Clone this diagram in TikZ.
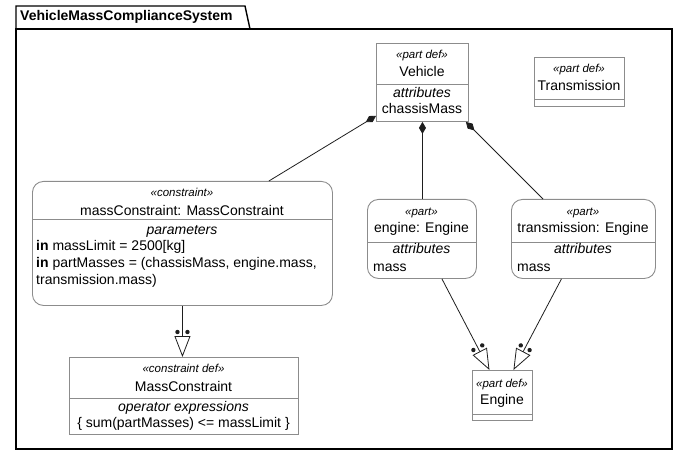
\documentclass[tikz,border=0pt]{standalone}
\usepackage{fontspec}
\setmainfont{Liberation Sans}
\usetikzlibrary{arrows.meta,decorations.markings}
\definecolor{boxgray}{RGB}{140,140,140}
\definecolor{linegray}{RGB}{30,30,30}
\begin{document}
\begin{tikzpicture}[x=1pt,y=-1pt,
  defbox/.style={draw=boxgray,line width=0.9pt,inner sep=0pt,anchor=north west},
  usebox/.style={defbox,rounded corners=11pt},
  sep/.style={draw=boxgray,line width=0.9pt},
  stereo/.style={anchor=base,inner sep=0pt,font=\fontsize{11.5}{13}\selectfont\itshape},
  heading/.style={anchor=base,inner sep=0pt,font=\fontsize{14}{16}\selectfont},
  member/.style={heading,anchor=base west},
  owns/.style={linegray,line width=0.8pt,{Diamond[length=12pt,width=7pt]}-},
  typed/.style={linegray,line width=0.8pt,-{Triangle[open,length=21pt,width=16pt,fill=white]},
    postaction={decorate},decoration={markings,
      mark=at position -25pt with {\fill (0,5) circle (2.2); \fill (0,-5) circle (2.2);}}}]
\useasboundingbox (0,0) rectangle (688,457);

\draw[line width=1.4pt] (16,29) rectangle (672,449);
\draw[line width=1.4pt] (16,29) -- (16,6) -- (245,6) -- (250,29);
\node[anchor=base west,inner sep=0pt,font=\fontsize{14}{16}\selectfont\bfseries] (pkg) at (20,21) {VehicleMassComplianceSystem};

\node[defbox,minimum width=92,minimum height=78] (vehicle) at (376,43) {};
\draw[sep] (376,84) -- (468,84);
\node[stereo] (vehicleS) at (422,59) {«part def»};
\node[heading] (vehicleN) at (422,77) {Vehicle};
\node[heading,font=\fontsize{14}{16}\selectfont\itshape] (vehicleA) at (422,98) {attributes};
\node[heading] (vehicleM) at (422,114) {chassisMass};

\node[defbox,minimum width=90,minimum height=49] (transmission) at (534,57) {};
\draw[sep] (534,99) -- (624,99);
\node[stereo] (transmissionS) at (579,73) {«part def»};
\node[heading] (transmissionN) at (579,91) {Transmission};

\node[usebox,minimum width=300,minimum height=124] (mcon) at (32,181) {};
\draw[sep] (32,219) -- (332,219);
\node[stereo] (mconS) at (182,197) {«constraint»};
\node[heading] (mconN) at (182,216) {massConstraint: MassConstraint};
\node[heading,font=\fontsize{14}{16}\selectfont\itshape] (mconP) at (182,235) {parameters};
\node[member] (mconA) at (36,251) {\textbf{in} massLimit = 2500[kg]};
\node[member] (mconB) at (36,267.5) {\textbf{in} partMasses = (chassisMass, engine.mass,};
\node[member] (mconC) at (36,284) {transmission.mass)};

\node[usebox,minimum width=109,minimum height=79] (engine) at (367,199) {};
\draw[sep] (367,242) -- (476,242);
\node[stereo] (engineS) at (421.5,216) {«part»};
\node[heading] (engineN) at (421.5,233) {engine: Engine};
\node[heading,font=\fontsize{14}{16}\selectfont\itshape] (engineA) at (421.5,254) {attributes};
\node[member] (engineM) at (373,271) {mass};

\node[usebox,minimum width=144,minimum height=79] (transm) at (511,199) {};
\draw[sep] (511,242) -- (655,242);
\node[stereo] (transmS) at (583,216) {«part»};
\node[heading] (transmN) at (583,233) {transmission: Engine};
\node[heading,font=\fontsize{14}{16}\selectfont\itshape] (transmA) at (583,254) {attributes};
\node[member] (transmM) at (517,271) {mass};

\node[defbox,minimum width=229,minimum height=77] (mcdef) at (69,357) {};
\draw[sep] (69,398) -- (298,398);
\node[stereo] (mcdefS) at (183.5,372) {«constraint def»};
\node[heading] (mcdefN) at (183.5,391.5) {MassConstraint};
\node[heading,font=\fontsize{14}{16}\selectfont\itshape] (mcdefO) at (183.5,411) {operator expressions};
\node[heading] (mcdefE) at (183.5,427) {\{ sum(partMasses) <= massLimit \}};

\node[defbox,minimum width=60,minimum height=50] (enginedef) at (472,370) {};
\draw[sep] (472,414) -- (532,414);
\node[stereo] (enginedefS) at (502,387) {«part def»};
\node[heading] (enginedefN) at (502,404) {Engine};

\draw[owns] ([yshift=6pt]vehicle.south west) -- ([xshift=-64pt]mcon.north east);
\draw[owns] (vehicle.south) -- (vehicle.south |- engine.north);
\draw[owns] ([xshift=-3pt]vehicle.south east) -- ([xshift=32pt]transm.north west);
\draw[typed] (mcon.south) -- (mcon.south |- mcdef.north);
\draw[typed] ([xshift=20pt]engine.south) -- ([xshift=-13pt]enginedef.north);
\draw[typed] ([xshift=-22pt]transm.south) -- ([xshift=11pt]enginedef.north);
\end{tikzpicture}
\end{document}
